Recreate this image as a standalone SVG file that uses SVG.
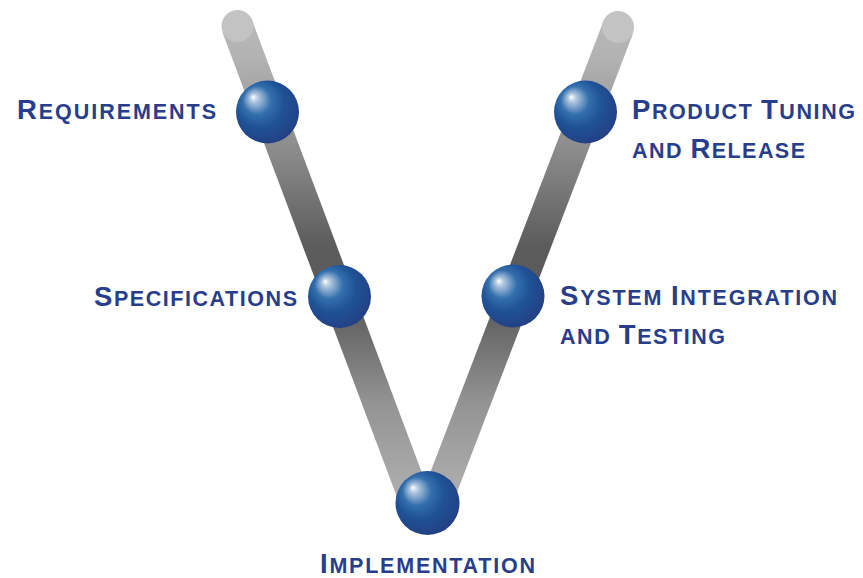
<svg xmlns="http://www.w3.org/2000/svg" width="863" height="578" viewBox="0 0 863 578">
  <defs>
    <linearGradient id="barGrad" gradientUnits="userSpaceOnUse" x1="0" y1="10" x2="0" y2="500">
      <stop offset="0" stop-color="#b9b9b9"/>
      <stop offset="0.1" stop-color="#b2b2b2"/>
      <stop offset="0.3" stop-color="#888888"/>
      <stop offset="0.48" stop-color="#5c5c5c"/>
      <stop offset="0.6" stop-color="#5a5a5a"/>
      <stop offset="0.8" stop-color="#939393"/>
      <stop offset="1" stop-color="#b0b0b0"/>
    </linearGradient>
    <radialGradient id="ballGrad" cx="0.45" cy="0.42" r="0.64" fx="0.27" fy="0.26">
      <stop offset="0" stop-color="#ffffff"/>
      <stop offset="0.1" stop-color="#b3c8e0"/>
      <stop offset="0.35" stop-color="#3470ad"/>
      <stop offset="0.6" stop-color="#1f5297"/>
      <stop offset="1" stop-color="#243d80"/>
    </radialGradient>
    <style>
      .bar { fill: none; stroke: url(#barGrad); stroke-width: 32; stroke-linecap: butt; }
      .cap { fill: #c3c3c3; }
      .ball { fill: url(#ballGrad); }
      .lbl { font-family: "Liberation Sans", Arial, sans-serif; font-weight: bold; fill: #283d8b; font-size: 21.5px; }
      .big { font-size: 27.5px; }
    </style>
  </defs>

  <g id="connectors">
    <line class="bar" x1="237.5" y1="27" x2="414" y2="497"/>
    <line class="bar" x1="618" y1="28" x2="438" y2="497"/>
    <circle class="cap" cx="237.5" cy="26" r="16"/>
    <circle class="cap" cx="618" cy="27" r="16"/>
  </g>

  <g id="requirements">
    <circle class="ball" cx="267.5" cy="112" r="31.5"/>
    <text class="lbl" x="17" y="119" textLength="199" lengthAdjust="spacing"><tspan class="big">R</tspan>EQUIREMENTS</text>
  </g>

  <g id="specifications">
    <circle class="ball" cx="339.5" cy="296.5" r="31.5"/>
    <text class="lbl" x="94" y="306" textLength="203" lengthAdjust="spacing"><tspan class="big">S</tspan>PECIFICATIONS</text>
  </g>

  <g id="implementation">
    <circle class="ball" cx="427.5" cy="503" r="32"/>
    <text class="lbl" x="320" y="573" textLength="215" lengthAdjust="spacing"><tspan class="big">I</tspan>MPLEMENTATION</text>
  </g>

  <g id="system-integration">
    <circle class="ball" cx="513" cy="296" r="31.5"/>
    <text class="lbl" x="560" y="305" textLength="277" lengthAdjust="spacing"><tspan class="big">S</tspan>YSTEM <tspan class="big">I</tspan>NTEGRATION</text>
    <text class="lbl" x="560" y="344" textLength="165" lengthAdjust="spacing">AND <tspan class="big">T</tspan>ESTING</text>
  </g>

  <g id="product-tuning">
    <circle class="ball" cx="585.5" cy="112" r="31.5"/>
    <text class="lbl" x="632" y="119" textLength="223" lengthAdjust="spacing"><tspan class="big">P</tspan>RODUCT <tspan class="big">T</tspan>UNING</text>
    <text class="lbl" x="632" y="158" textLength="173" lengthAdjust="spacing">AND <tspan class="big">R</tspan>ELEASE</text>
  </g>
</svg>
